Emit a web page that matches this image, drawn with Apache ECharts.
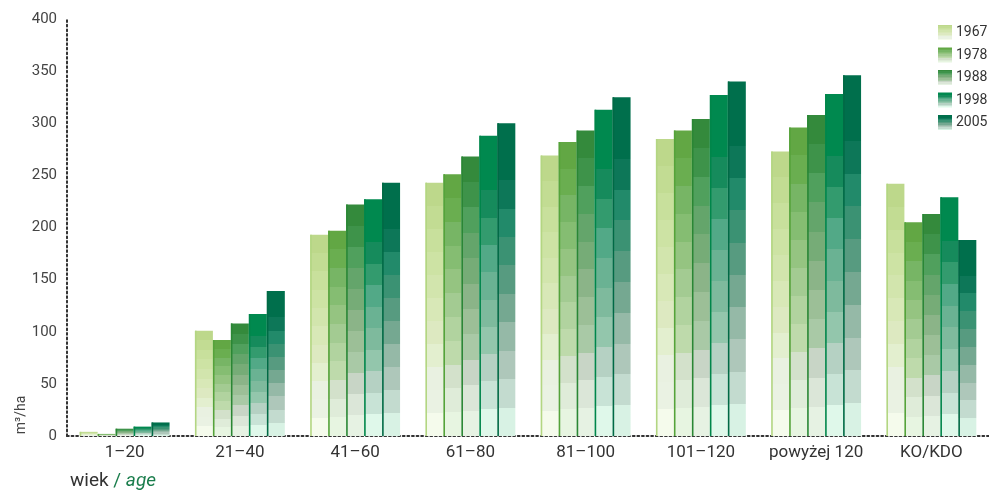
<!DOCTYPE html>
<html>
<head>
<meta charset="utf-8">
<script src="https://cdn.jsdelivr.net/npm/echarts@6/dist/echarts.min.js"></script>
<style>
html,body{margin:0;padding:0;background:#fff;}
#chart{width:989px;height:495px;}
</style>
</head>
<body>
<div id="chart"></div>
<script>
// ---- data ----
const categories = ['1–20', '21–40', '41–60', '61–80', '81–100', '101–120', 'powyżej 120', 'KO/KDO'];
const years = ['1967', '1978', '1988', '1998', '2005'];
const v1967 = [4, 101, 193, 243, 269, 285, 273, 242];
const v1978 = [2, 92, 197, 251, 282, 293, 296, 205];
const v1988 = [7, 108, 222, 268, 293, 304, 308, 213];
const v1998 = [9, 117, 227, 288, 313, 327, 328, 229];
const v2005 = [13, 139, 243, 300, 325, 340, 346, 188];
const yTicks = [0, 50, 100, 150, 200, 250, 300, 350, 400];

// ---- styles ----
const bands = [
  ['#f5fbec','#eaf2e3','#e9f1e1','#e3efcf','#dde9c1','#d8e8b7','#d2e5ad','#cde3a4','#c8e09c','#c2dc93','#bdd88b'],
  ['#e7f5e1','#dfecd9','#d3e1cb','#bedaab','#b1d39f','#a3cb92','#95c481','#85bd72','#77b565','#6aae50','#62a744'],
  ['#e6f2e3','#dbe6d8','#c8d5c6','#a9c9a6','#9cbf97','#8bb488','#76ac77','#64a56b','#50a05d','#3e934a','#348a3c'],
  ['#dff8ea','#c8e3d6','#b5d1c3','#93c6ac','#7eba9d','#6ab293','#52a987','#339b6e','#168b5c','#00894f','#00894f'],
  ['#d8f2e4','#c3dbcf','#aec7ba','#95b9a7','#75a891','#579b80','#3b9273','#228a6a','#0d7758','#006f4c','#006f4c']
];
const edge = ['#b3d682', '#55a33a', '#2a8734', '#00864a', '#006a45'];
const values = [v1967, v1978, v1988, v1998, v2005];

function grad(si) {
  const c = bands[si], n = c.length, stops = [];
  for (let i = 0; i < n; i++) {
    stops.push({offset: i / n, color: c[i]});
    stops.push({offset: (i + 1) / n, color: c[i]});
  }
  return new echarts.graphic.LinearGradient(0, 1, 0, 0, stops);
}

function makeRender(si) {
  return function (params, api) {
    const idx = api.value(0), val = api.value(1);
    const p0 = api.coord([idx, 0]);
    const p1 = api.coord([idx, val]);
    const band = api.size([1, 0])[0];
    const bw = band * 0.78 / 5;
    const x = p0[0] - 2.5 * bw + si * bw;
    const h = p0[1] - p1[1];
    return {
      type: 'group',
      children: [
        {type: 'rect', shape: {x: x, y: p1[1], width: bw, height: h}, style: {fill: grad(si)}},
        {type: 'rect', shape: {x: x, y: p1[1], width: 1.6, height: h}, style: {fill: edge[si]}}
      ]
    };
  };
}

const chart = echarts.init(document.getElementById('chart'), null, {renderer: 'canvas'});
const font = 'Roboto, "Noto Sans", sans-serif';

const series = years.map((y, si) => ({
  name: y,
  type: 'custom',
  renderItem: makeRender(si),
  encode: {x: 0, y: 1},
  itemStyle: {color: grad(si)},
  data: values[si].map((v, i) => [i, v])
}));

const dotted = {color: '#333', width: 2, type: [1.8, 2.8]};

chart.setOption({
  animation: false,
  backgroundColor: '#ffffff',
  grid: {left: 67, right: -2, top: 19, bottom: 59},
  legend: {
    orient: 'vertical',
    left: 933, top: 20,
    icon: 'rect',
    itemWidth: 14, itemHeight: 15, itemGap: 7.5,
    textStyle: {fontFamily: font, fontSize: 14, color: '#333', padding: [0, 0, 0, -1]},
    data: years
  },
  xAxis: {
    type: 'category',
    data: categories,
    boundaryGap: true,
    axisLine: {show: true, lineStyle: dotted},
    axisTick: {show: false},
    axisLabel: {fontFamily: font, fontSize: 17, color: '#333', margin: 8, interval: 0},
    splitLine: {show: false}
  },
  yAxis: {
    type: 'value',
    min: yTicks[0], max: yTicks[yTicks.length - 1], interval: 50,
    axisLine: {show: true, lineStyle: dotted},
    axisTick: {show: false},
    axisLabel: {fontFamily: font, fontSize: 15, color: '#444', margin: 10},
    splitLine: {show: false}
  },
  graphic: [
    {
      type: 'text', x: 21, y: 415, rotation: Math.PI / 2,
      style: {text: 'm³/ha', font: '14px ' + font, fill: '#444', align: 'center', verticalAlign: 'middle'}
    },
    {
      type: 'text', left: 70, top: 472,
      style: {
        text: '{a|wiek }{b|/ }{c|age}',
        rich: {
          a: {font: '19px ' + font, fill: '#333', color: '#333'},
          b: {font: '19px ' + font, fill: '#1a7d4c', color: '#1a7d4c'},
          c: {font: 'italic 19px ' + font, fill: '#1a7d4c', color: '#1a7d4c'}
        }
      }
    }
  ],
  series: series
});
</script>
</body>
</html>
